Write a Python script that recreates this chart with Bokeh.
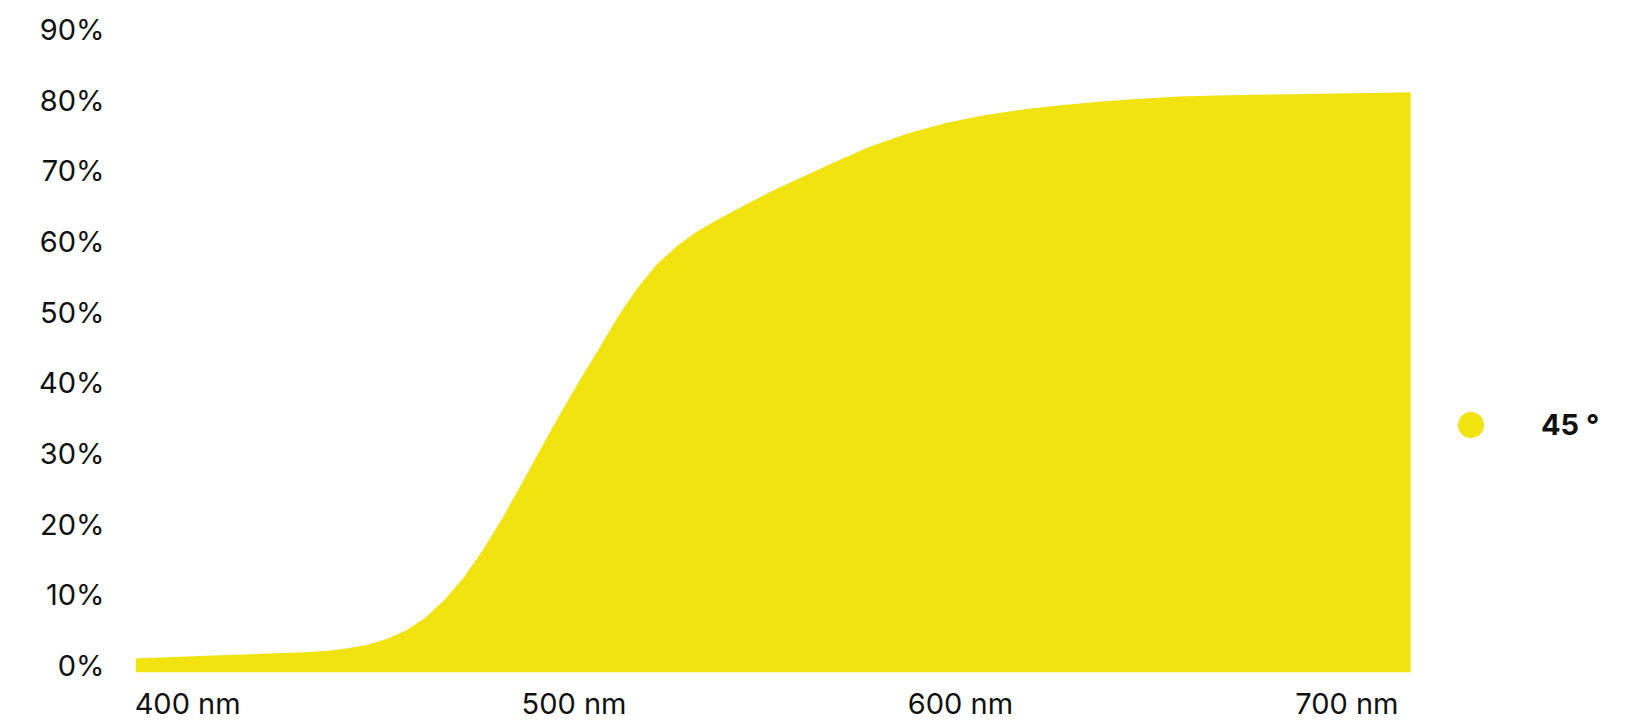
from bokeh.plotting import figure
from bokeh.models import (FixedTicker, PrintfTickFormatter, Range1d, Legend, LegendItem,
                          ColumnDataSource, LinearAxis)
from bokeh.embed import file_html
from bokeh.resources import INLINE

# ---- data ----
wavelength_nm = [400, 410, 420, 430, 440, 445, 450, 455, 460, 465, 470, 475, 480, 485, 490,
                 495, 500, 505, 510, 515, 520, 525, 530, 535, 540, 545, 550, 555, 560, 565,
                 570, 580, 590, 600, 610, 620, 630, 640, 650, 660, 670, 680, 690, 700, 710,
                 720, 730]
reflectance_pct = [1.0, 1.2, 1.4, 1.6, 1.8, 1.9, 2.1, 2.45, 2.95, 3.75, 4.95, 6.75, 9.3, 12.5, 16.4,
                   20.9, 25.8, 30.8, 35.7, 40.4, 44.9, 49.5, 53.5, 56.8, 59.3, 61.3, 62.9, 64.4, 65.8, 67.2,
                   68.5, 71.0, 73.4, 75.3, 76.8, 77.9, 78.7, 79.3, 79.8, 80.2, 80.5, 80.65, 80.75, 80.85, 80.95,
                   81.0, 81.1]
series_name = "45 °"
x_ticks = [400, 500, 600, 700]
y_ticks = [0, 10, 20, 30, 40, 50, 60, 70, 80, 90]

YELLOW = "#F0E310"
FONT = "Inter"
X_START, X_END = 400, 786.9
Y_START, Y_END = -0.99, 94.1
LABEL_SHIFT = 13.5  # x labels sit to the right of their tick (left-aligned look)

p = figure(width=1630, height=724, output_backend="svg", toolbar_location=None,
           x_range=Range1d(X_START, X_END), y_range=Range1d(Y_START, Y_END),
           x_axis_location=None,
           min_border_left=135, min_border_right=0, min_border_top=0, min_border_bottom=52)
p.outline_line_color = None
p.xgrid.visible = False
p.ygrid.visible = False
p.background_fill_color = "white"
p.border_fill_color = "white"

src = ColumnDataSource(dict(x=wavelength_nm, y=reflectance_pct))
p.varea(x="x", y1=Y_START, y2="y", source=src, fill_color=YELLOW, fill_alpha=1.0)

# legend-only marker renderer (zero-size points on the data)
dot = p.scatter(x="x", y="y", source=src, size=0, marker="circle",
                fill_color=YELLOW, line_color=None)

p.extra_x_ranges = {"labels": Range1d(X_START - LABEL_SHIFT, X_END - LABEL_SHIFT)}
xaxis = LinearAxis(x_range_name="labels")
p.add_layout(xaxis, "below")

for ax in (xaxis, p.yaxis[0]):
    ax.axis_line_color = None
    ax.major_tick_line_color = None
    ax.minor_tick_line_color = None
    ax.major_tick_out = 0
    ax.major_tick_in = 0
    ax.major_label_text_font = FONT
    ax.major_label_text_font_size = "29px"
    ax.major_label_text_color = "#111111"

xaxis.ticker = FixedTicker(ticks=x_ticks)
xaxis.formatter = PrintfTickFormatter(format="%d nm")
xaxis.major_label_standoff = 13

p.yaxis.ticker = FixedTicker(ticks=y_ticks)
p.yaxis.formatter = PrintfTickFormatter(format="%d%%")
p.yaxis.major_label_standoff = 31

legend = Legend(items=[LegendItem(label=series_name, renderers=[dot])],
                location=(1303, 215), border_line_color=None, background_fill_alpha=0,
                glyph_width=65, glyph_height=65, label_standoff=38,
                label_text_font=FONT, label_text_font_style="bold",
                label_text_font_size="29px", label_text_color="#111111",
                padding=0, margin=0, spacing=0)
p.add_layout(legend)

open("out.html", "w").write(file_html(p, INLINE))
